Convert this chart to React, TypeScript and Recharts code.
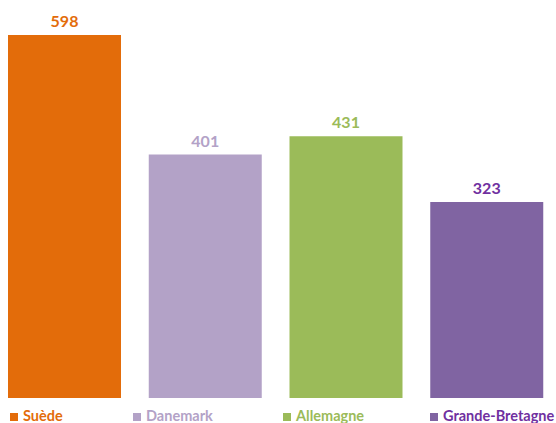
import React from 'react';
import { BarChart, Bar, XAxis, YAxis, Cell, LabelList } from 'recharts';

const countries = ['Suède', 'Danemark', 'Allemagne', 'Grande-Bretagne'];
const values = [598, 401, 431, 323];
const barColors = ['#E36C0A', '#B3A2C7', '#9BBB59', '#8064A2'];
const textColors = ['#E36C0A', '#B3A2C7', '#9BBB59', '#7030A0'];

const data = countries.map((name, i) => ({ name, value: values[i] }));

const FONT = 'Lato, "Open Sans", sans-serif';

const ValueLabel = (props: any) => {
  const { x, y, width, value, index } = props;
  return (
    <text
      x={x + width / 2}
      y={y - 8}
      textAnchor="middle"
      fill={textColors[index]}
      fontFamily={FONT}
      fontWeight={700}
      fontSize={16}
    >
      {value}
    </text>
  );
};

const legendLeft = [10, 133, 283, 430];

export default function App() {
  return (
    <div
      style={{
        position: 'fixed',
        left: 0,
        top: 0,
        width: 556,
        height: 423,
        overflow: 'hidden',
        background: '#fff'
      }}
    >
      <div style={{ position: 'absolute', left: -6, top: 0 }}>
        <BarChart
          width={563}
          height={423}
          data={data}
          margin={{ top: 35, right: 0, bottom: 25, left: 0 }}
          barCategoryGap={28}
        >
          <XAxis dataKey="name" hide />
          <YAxis hide domain={[0, 598]} />
          <Bar dataKey="value" barSize={113} isAnimationActive={false}>
            {data.map((d, i) => (
              <Cell key={d.name} fill={barColors[i]} />
            ))}
            <LabelList dataKey="value" content={<ValueLabel />} />
          </Bar>
        </BarChart>
      </div>
      {countries.map((c, i) => (
        <div
          key={c}
          style={{
            position: 'absolute',
            left: legendLeft[i],
            top: 408,
            display: 'flex',
            alignItems: 'flex-start',
            whiteSpace: 'nowrap',
            fontFamily: FONT,
            fontWeight: 700,
            fontSize: 14.5,
            lineHeight: '15px',
            color: textColors[i]
          }}
        >
          <span
            style={{
              display: 'inline-block',
              width: 8,
              height: 8,
              marginTop: 5,
              background: barColors[i],
              marginRight: 5
            }}
          />
          {c}
        </div>
      ))}
    </div>
  );
}
